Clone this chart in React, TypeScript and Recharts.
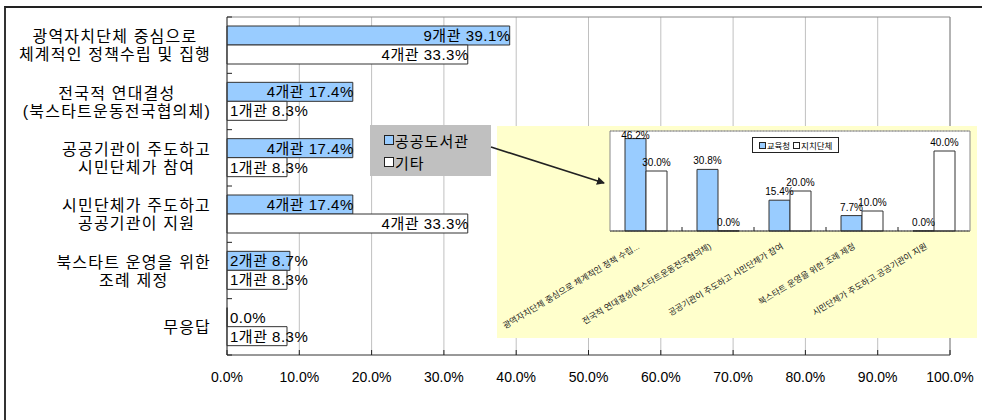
import React from 'react';
import { BarChart, Bar, XAxis, YAxis, CartesianGrid, LabelList } from 'recharts';

// main chart data
const categories = [
  ['광역자치단체 중심으로', '체계적인 정책수립 및 집행'],
  ['전국적 연대결성', '(북스타트운동전국협의체)'],
  ['공공기관이 주도하고', '시민단체가 참여'],
  ['시민단체가 주도하고', '공공기관이 지원'],
  ['북스타트 운영을 위한', '조례 제정'],
  ['무응답'],
];
const seriesNames = ['공공도서관', '기타'];
const libraryPct = [39.1, 17.4, 17.4, 17.4, 8.7, 0.0];
const libraryCount = [9, 4, 4, 4, 2, 0];
const otherPct = [33.3, 8.3, 8.3, 33.3, 8.3, 8.3];
const otherCount = [4, 1, 1, 4, 1, 1];
const xTicks = [0, 10, 20, 30, 40, 50, 60, 70, 80, 90, 100];

// inset chart data
const insetCategories = [
  '광역자치단체 중심으로 체계적인 정책 수립...',
  '전국적 연대결성(북스타트운동전국협의체)',
  '공공기관이 주도하고 시민단체가 참여',
  '북스타트 운영을 위한 조례 제정',
  '시민단체가 주도하고 공공기관이 지원',
];
const insetSeriesNames = ['교육청', '지치단체'];
const eduPct = [46.2, 30.8, 15.4, 7.7, 0.0];
const localPct = [30.0, 0.0, 20.0, 10.0, 40.0];
const insetTicks = [0, 5, 10, 15, 20, 25, 30, 35, 40, 45, 50];

const BLUE = '#99CCFF';
const FONT = "'Liberation Sans', 'Noto Sans CJK KR', sans-serif";
const W = 984;
const H = 420;
const MARGIN = { top: 16, right: 33, bottom: 35, left: 0 };
const Y_AXIS_W = 227;
const X_AXIS_H = 30;
const PLOT_H = H - MARGIN.top - 1 - MARGIN.bottom - X_AXIS_H;
const BAND = PLOT_H / categories.length;

const INSET_W = 480;
const INSET_H = 212;
const INSET_MARGIN = { top: 4, right: 6, bottom: 106, left: 112 };
const INSET_PLOT_TOP = INSET_MARGIN.top + 1;
const INSET_BAND = (INSET_W - INSET_MARGIN.left - INSET_MARGIN.right - 2) / insetCategories.length;

// zero values still get a hairline bar so their labels are drawn
const zeroSize = (v: any) => (Number(v) === 0 ? 0.1 : 0);

let ctx: CanvasRenderingContext2D | null = null;
const measure = (text: string, font: string) => {
  if (!ctx) ctx = document.createElement('canvas').getContext('2d');
  if (!ctx) return text.length * 10;
  ctx.font = font;
  return ctx.measureText(text).width;
};

const fmtLabel = (n: number, p: number) => (n > 0 ? `${n}개관 ${p.toFixed(1)}%` : `${p.toFixed(1)}%`);

const mainData = categories.map((lines, i) => ({
  name: lines.join('\n'),
  library: libraryPct[i],
  other: otherPct[i],
  libraryLabel: fmtLabel(libraryCount[i], libraryPct[i]),
  otherLabel: fmtLabel(otherCount[i], otherPct[i]),
}));

const insetData = insetCategories.map((name, i) => ({
  name,
  edu: eduPct[i],
  local: localPct[i],
}));

const BarValueLabel = (props: any) => {
  const vb = props.viewBox || props;
  const { x, y, width, height } = vb;
  const text = String(props.value);
  const tw = measure(text, `15px ${FONT}`) + text.length * 0.5;
  const fits = tw <= width;
  return (
    <text
      x={fits ? x + width + 1 : x + 3}
      y={y + height / 2}
      textAnchor={fits ? 'end' : 'start'}
      dominantBaseline="central"
      fontSize={15}
      fontFamily={FONT}
      fill="#000"
      style={{ letterSpacing: 0.5 }}
    >
      {text}
    </text>
  );
};

const CategoryTick = (props: any) => {
  const { x, y, payload, index } = props;
  const lines = String(payload.value).split('\n');
  const widths = lines.map((l) => measure(l, `16px ${FONT}`) + l.length * 1.2);
  const blockW = Math.max(...widths);
  const cx = x - 16 - blockW / 2;
  const y0 = y - ((lines.length - 1) * 18) / 2;
  return (
    <g>
      {index === 0 && <line x1={x} x2={x + 5} y1={y - BAND / 2} y2={y - BAND / 2} stroke="#222" />}
      <line x1={x} x2={x + 5} y1={y + BAND / 2} y2={y + BAND / 2} stroke="#222" />
      <text
        textAnchor="middle"
        dominantBaseline="central"
        fontSize={16}
        fontFamily={FONT}
        fill="#000"
        style={{ letterSpacing: 1.2 }}
      >
        {lines.map((l, i) => (
          <tspan key={i} x={cx} y={y0 + i * 18}>
            {l}
          </tspan>
        ))}
      </text>
    </g>
  );
};

const PctTick = (props: any) => {
  const { x, y, payload } = props;
  return (
    <g>
      <line x1={x} x2={x} y1={y - 5} y2={y} stroke="#222" />
      <text x={x} y={y + 22} textAnchor="middle" dominantBaseline="central" fontSize={14} fontFamily={FONT} fill="#000">
        {`${Number(payload.value).toFixed(1)}%`}
      </text>
    </g>
  );
};

const InsetValueLabel = (props: any) => {
  const vb = props.viewBox || props;
  const { x, y, width, height } = vb;
  const top = Math.min(y, y + height);
  const base = Math.max(top - 5, INSET_PLOT_TOP + 8);
  return (
    <text x={x + width / 2} y={base} textAnchor="middle" fontSize={10} fontFamily={FONT} fill="#000">
      {`${Number(props.value).toFixed(1)}%`}
    </text>
  );
};

const InsetTick = (props: any) => {
  const { x, y, payload, index } = props;
  const tx = x - 6;
  const ty = y + 17;
  return (
    <g>
      {index > 0 && <line x1={x - INSET_BAND / 2} x2={x - INSET_BAND / 2} y1={y} y2={y - 4} stroke="#222" />}
      <text
        x={tx}
        y={ty}
        transform={`rotate(-31 ${tx} ${ty})`}
        textAnchor="end"
        fontSize={8.5}
        fontFamily={FONT}
        fill="#222"
      >
        {payload.value}
      </text>
    </g>
  );
};

const Swatch = ({ color, size }: { color: string; size: number }) => (
  <span
    style={{
      display: 'inline-block',
      width: size,
      height: size,
      background: color,
      border: '1px solid #222',
      boxSizing: 'border-box',
      marginRight: 1,
    }}
  />
);

const App = () => {
  return (
    <div style={{ position: 'absolute', left: 0, top: 0, width: W, height: H, overflow: 'hidden', background: '#fff' }}>
      {/* outer frame */}
      <div
        style={{
          position: 'absolute',
          left: 4,
          top: 6,
          width: 976,
          height: 440,
          borderLeft: '2px solid #333',
          borderTop: '2px solid #222',
        }}
      />
      <div style={{ position: 'absolute', left: 0, top: 0 }}>
        <BarChart width={W} height={H} data={mainData} layout="vertical" margin={MARGIN} barGap={0}>
          <CartesianGrid horizontal={false} vertical stroke="#c0c0c0" />
          <XAxis
            type="number"
            domain={[0, 100]}
            ticks={xTicks}
            height={X_AXIS_H}
            tickSize={0}
            tickMargin={0}
            tickLine={false}
            axisLine={{ stroke: '#333' }}
            tick={<PctTick />}
            interval={0}
          />
          <XAxis xAxisId="top" orientation="top" type="number" domain={[0, 100]} height={1} tick={false} tickLine={false} axisLine={{ stroke: '#888' }} />
          <YAxis
            type="category"
            dataKey="name"
            width={Y_AXIS_W}
            tickSize={0}
            tickMargin={0}
            tickLine={false}
            axisLine={{ stroke: '#333' }}
            tick={<CategoryTick />}
            interval={0}
          />
          <YAxis yAxisId="right" orientation="right" type="category" dataKey="name" width={1} tick={false} tickLine={false} axisLine={{ stroke: '#888' }} />
          <Bar dataKey="library" name={seriesNames[0]} fill={BLUE} stroke="#333" strokeWidth={1} barSize={19} minPointSize={zeroSize} isAnimationActive={false}>
            <LabelList dataKey="libraryLabel" content={(p: any) => <BarValueLabel {...p} />} />
          </Bar>
          <Bar dataKey="other" name={seriesNames[1]} fill="#fff" stroke="#333" strokeWidth={1} barSize={19} minPointSize={zeroSize} isAnimationActive={false}>
            <LabelList dataKey="otherLabel" content={(p: any) => <BarValueLabel {...p} />} />
          </Bar>
        </BarChart>
      </div>

      {/* main legend */}
      <div
        style={{
          position: 'absolute',
          left: 370,
          top: 125,
          width: 121,
          height: 51,
          background: '#c0c0c0',
          fontFamily: FONT,
          fontSize: 15,
          letterSpacing: 1,
          color: '#000',
        }}
      >
        {seriesNames.map((n, i) => (
          <div key={n} style={{ position: 'absolute', left: 14, top: 5 + i * 22, height: 20, display: 'flex', alignItems: 'center' }}>
            <Swatch color={i === 0 ? BLUE : '#fff'} size={10} />
            <span>{n}</span>
          </div>
        ))}
      </div>

      {/* inset chart */}
      <div style={{ position: 'absolute', left: 497, top: 126, width: INSET_W, height: INSET_H, background: '#ffffcc' }}>
        <BarChart width={INSET_W} height={INSET_H} data={insetData} margin={INSET_MARGIN} barGap={0}>
          <CartesianGrid vertical={false} stroke="#aaa" strokeDasharray="1 2" fill="#fff" />
          <XAxis
            dataKey="name"
            height={1}
            tickSize={0}
            tickMargin={0}
            tickLine={false}
            axisLine={{ stroke: '#222' }}
            tick={<InsetTick />}
            interval={0}
          />
          <XAxis xAxisId="t" orientation="top" dataKey="name" height={1} tick={false} tickLine={false} axisLine={{ stroke: '#888' }} />
          <YAxis domain={[0, 50]} ticks={insetTicks} width={1} tick={false} tickLine={false} axisLine={{ stroke: '#888' }} />
          <YAxis yAxisId="r" orientation="right" domain={[0, 50]} width={1} tick={false} tickLine={false} axisLine={{ stroke: '#888' }} />
          <Bar dataKey="edu" name={insetSeriesNames[0]} fill={BLUE} stroke="#333" strokeWidth={1} barSize={21} minPointSize={zeroSize} isAnimationActive={false}>
            <LabelList dataKey="edu" content={(p: any) => <InsetValueLabel {...p} />} />
          </Bar>
          <Bar dataKey="local" name={insetSeriesNames[1]} fill="#fff" stroke="#333" strokeWidth={1} barSize={21} minPointSize={zeroSize} isAnimationActive={false}>
            <LabelList dataKey="local" content={(p: any) => <InsetValueLabel {...p} />} />
          </Bar>
        </BarChart>
        <div
          style={{
            position: 'absolute',
            left: 255,
            top: 11,
            width: 87,
            height: 16,
            boxSizing: 'border-box',
            background: '#fff',
            border: '1px solid #222',
            display: 'flex',
            alignItems: 'center',
            justifyContent: 'center',
            gap: 3,
            fontFamily: FONT,
            fontSize: 8.5,
            color: '#000',
          }}
        >
          {insetSeriesNames.map((n, i) => (
            <span key={n} style={{ display: 'flex', alignItems: 'center' }}>
              <Swatch color={i === 0 ? BLUE : '#fff'} size={7} />
              <span>{n}</span>
            </span>
          ))}
        </div>
      </div>

      {/* arrow from legend to inset */}
      <svg width={W} height={H} style={{ position: 'absolute', left: 0, top: 0, pointerEvents: 'none' }}>
        <defs>
          <marker id="arrowHead" markerWidth="8" markerHeight="8" refX="7" refY="4" orient="auto" markerUnits="userSpaceOnUse">
            <path d="M0,0 L8,4 L0,8 z" fill="#222" />
          </marker>
        </defs>
        <line x1={491} y1={147} x2={604} y2={183} stroke="#222" strokeWidth={1.6} markerEnd="url(#arrowHead)" />
      </svg>
    </div>
  );
};

export default App;
